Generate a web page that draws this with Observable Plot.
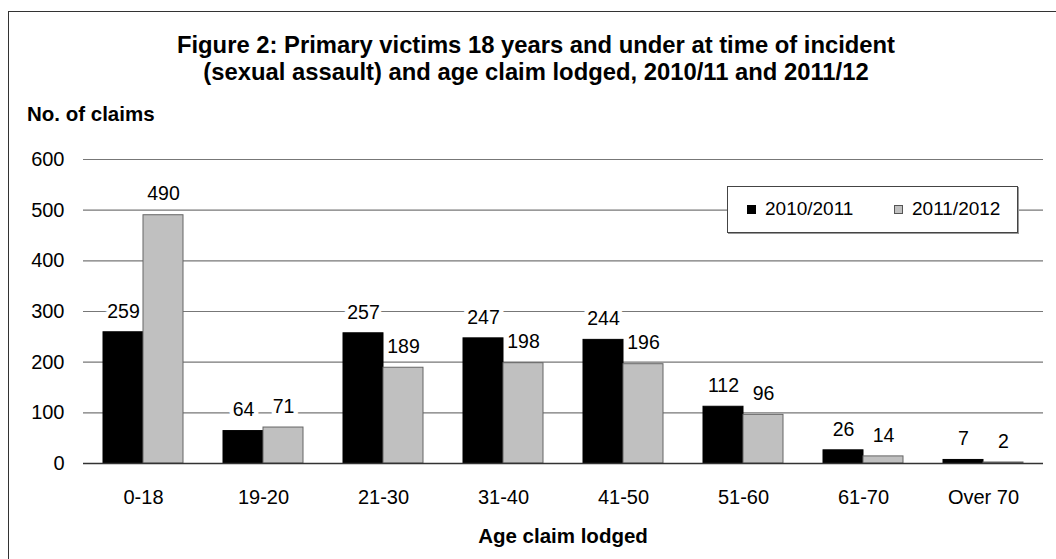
<!DOCTYPE html>
<html>
<head>
<meta charset="utf-8">
<script src="https://cdn.jsdelivr.net/npm/d3@7"></script>
<script src="https://cdn.jsdelivr.net/npm/@observablehq/plot@0.6"></script>
<style>
  html, body { margin: 0; padding: 0; background: #fff; }
  #wrap { position: relative; width: 1056px; height: 559px; overflow: hidden; font-family: "Liberation Sans", Arial, sans-serif; color: #000; }
  #frame { position: absolute; left: 8px; top: 11px; width: 1100px; height: 600px; border-left: 1.5px solid #333; border-top: 1.5px solid #333; }
  #title { position: absolute; left: 0; width: 1072px; top: 31px; text-align: center; font-weight: bold; font-size: 23.8px; line-height: 27px; }
  #ylab { position: absolute; left: 27px; top: 102px; font-weight: bold; font-size: 20.5px; line-height: normal; }
  #xlab { position: absolute; left: 0; width: 1126px; top: 524px; text-align: center; font-weight: bold; font-size: 20.5px; }
  #legend { position: absolute; left: 727px; top: 186px; width: 289px; height: 45px; border: 1px solid #444; background: #fff; box-shadow: 1px 1px 0 #999; font-size: 19px; }
  .item { position: absolute; top: 11px; }
  .sw { display: inline-block; margin-right: 9px; vertical-align: 1px; }
  #chart { position: absolute; left: 0; top: 0; }
</style>
</head>
<body>
<div id="wrap">
  <div id="frame"></div>
  <div id="chart"></div>
  <div id="title">Figure 2: Primary victims 18 years and under at time of incident<br>(sexual assault) and age claim lodged, 2010/11 and 2011/12</div>
  <div id="ylab">No. of claims</div>
  <div id="xlab">Age claim lodged</div>
  <div id="legend"></div>
</div>
<script>
const ageGroups = ["0-18", "19-20", "21-30", "31-40", "41-50", "51-60", "61-70", "Over 70"];
const seriesNames = ["2010/2011", "2011/2012"];
const values2010 = [259, 64, 257, 247, 244, 112, 26, 7];
const values2011 = [490, 71, 189, 198, 196, 96, 14, 2];
const yTicks = [0, 100, 200, 300, 400, 500, 600];
const seriesColors = ["#000000", "#c0c0c0"];
const seriesStrokes = ["#000000", "#666666"];

const data = [];
ageGroups.forEach((a, i) => {
  data.push({age: a, series: seriesNames[0], value: values2010[i]});
  data.push({age: a, series: seriesNames[1], value: values2011[i]});
});

const labelOpts = {fx: "age", x: "series", y: "value", text: d => String(d.value), dy: -21, fontSize: 19.5};

const chart = Plot.plot({
  width: 1056,
  height: 559,
  marginLeft: 81,
  marginRight: 11,
  marginTop: 159,
  marginBottom: 96,
  style: {fontFamily: "'Liberation Sans', Arial, sans-serif", fontSize: "20px", color: "#000", background: "transparent"},
  fx: {domain: ageGroups, padding: 0, label: null, axis: "bottom", tickSize: 0, tickPadding: 26},
  x: {domain: seriesNames, paddingInner: 0, paddingOuter: 0.47, axis: null},
  y: {domain: [0, 600], ticks: yTicks, label: null, tickSize: 0, tickPadding: 19},
  color: {domain: seriesNames, range: seriesColors},
  marks: [
    Plot.ruleY(yTicks.filter(d => d > 0), {stroke: "#777", strokeWidth: 1.2, strokeOpacity: 1}),
    Plot.text(data, {...labelOpts, fill: "#fff", stroke: "#fff", strokeWidth: 9}),
    Plot.barY(data, {fx: "age", x: "series", y: "value", fill: "series", stroke: d => d.series === seriesNames[0] ? seriesStrokes[0] : seriesStrokes[1], strokeWidth: 1, inset: 0}),
    Plot.ruleY([0], {stroke: "#333", strokeWidth: 1.3}),
    Plot.text(data, {...labelOpts, fill: "#000"})
  ]
});
document.getElementById("chart").appendChild(chart);

const legend = document.getElementById("legend");
const lpos = [19, 166];
seriesNames.forEach((s, i) => {
  const it = document.createElement("div");
  it.className = "item";
  it.style.left = lpos[i] + "px";
  const sw = document.createElement("span");
  sw.className = "sw";
  sw.style.background = seriesColors[i];
  sw.style.border = "1px solid " + (i === 0 ? "#000" : "#555");
  sw.style.width = "7px"; sw.style.height = "7px";
  it.appendChild(sw);
  it.appendChild(document.createTextNode(s));
  legend.appendChild(it);
});
</script>
</body>
</html>
